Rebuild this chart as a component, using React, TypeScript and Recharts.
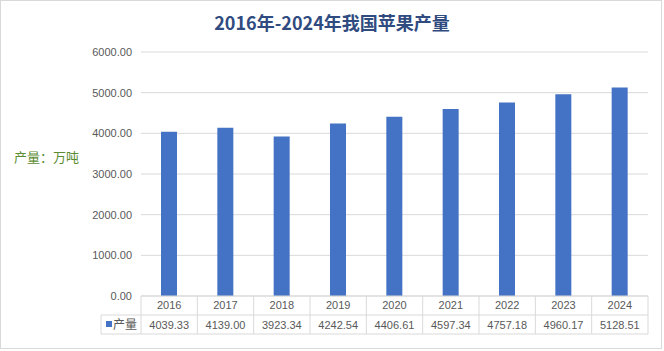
import { BarChart, Bar, XAxis, YAxis, CartesianGrid } from "recharts";

const years = ["2016", "2017", "2018", "2019", "2020", "2021", "2022", "2023", "2024"];
const output = [4039.33, 4139.0, 3923.34, 4242.54, 4406.61, 4597.34, 4757.18, 4960.17, 5128.51];
const yTicks = [0, 1000, 2000, 3000, 4000, 5000, 6000];

const data = years.map((year, i) => ({ name: year, value: output[i] }));

const BORDER = "#D9D9D9";
const TEXT = "#595959";
const BLUE = "#4472C4";

function TableTick(props: any) {
  const { x, y, payload, index } = props;
  const half = payload.offset;
  const left = x - half;
  const right = x + half;
  const rowH = 19;
  const legendW = 40;
  return (
    <g>
      <text x={x} y={y + 13} textAnchor="middle" fill={TEXT} fontSize={11}>
        {payload.value}
      </text>
      <text x={x} y={y + 33} textAnchor="middle" fill={TEXT} fontSize={11}>
        {output[index].toFixed(2)}
      </text>
      <line x1={right} y1={y} x2={right} y2={y + rowH * 2} stroke={BORDER} />
      <line x1={left} y1={y + rowH} x2={right} y2={y + rowH} stroke={BORDER} />
      <line x1={left} y1={y + rowH * 2} x2={right} y2={y + rowH * 2} stroke={BORDER} />
      {index === 0 && (
        <g>
          <line x1={left} y1={y} x2={left} y2={y + rowH * 2} stroke={BORDER} />
          <line x1={left - legendW} y1={y + rowH} x2={left} y2={y + rowH} stroke={BORDER} />
          <line x1={left - legendW} y1={y + rowH * 2} x2={left} y2={y + rowH * 2} stroke={BORDER} />
          <line x1={left - legendW} y1={y + rowH} x2={left - legendW} y2={y + rowH * 2} stroke={BORDER} />
          <rect x={left - legendW + 5} y={y + 25} width={6} height={6} fill={BLUE} />
          <text x={left - legendW + 12} y={y + 33} fill={TEXT} fontSize={12} fontFamily="Noto Sans CJK SC">
            产量
          </text>
        </g>
      )}
    </g>
  );
}

export default function App() {
  return (
    <div
      style={{
        position: "absolute",
        left: 0,
        top: 0,
        width: 664,
        height: 351,
        background: "#fff",
        fontFamily: "'Liberation Sans', Arial, sans-serif",
      }}
    >
      <div
        style={{
          position: "absolute",
          left: 0,
          top: 0,
          width: 660,
          height: 347,
          border: `1px solid ${BORDER}`,
        }}
      />
      <div
        style={{
          position: "absolute",
          left: 0,
          top: 10,
          width: 664,
          textAlign: "center",
          fontFamily: "'Noto Sans CJK SC', sans-serif",
          fontWeight: 700,
          fontSize: 18,
          lineHeight: "24px",
          color: "#2F4B80",
        }}
      >
        2016年-2024年我国苹果产量
      </div>
      <div
        style={{
          position: "absolute",
          left: 14,
          top: 148,
          fontFamily: "'Noto Sans CJK SC', sans-serif",
          fontSize: 13,
          lineHeight: "18px",
          color: "#5B8C32",
        }}
      >
        产量：万吨
      </div>
      <BarChart
        width={664}
        height={351}
        data={data}
        margin={{ top: 52, right: 16, left: 81, bottom: 15 }}
        style={{ position: "absolute", left: 0, top: 0 }}
      >
        <CartesianGrid vertical={false} stroke={BORDER} />
        <YAxis
          width={60}
          domain={[0, 6000]}
          ticks={yTicks}
          tickFormatter={(v: number) => v.toFixed(2)}
          tick={{ fontSize: 11, fill: TEXT }}
          tickLine={false}
          axisLine={false}
          tickMargin={3}
        />
        <XAxis
          dataKey="name"
          height={40}
          interval={0}
          tickSize={0}
          tickMargin={0}
          tickLine={false}
          axisLine={{ stroke: BORDER }}
          tick={TableTick}
        />
        <Bar dataKey="value" fill={BLUE} barSize={16} isAnimationActive={false} />
      </BarChart>
    </div>
  );
}
